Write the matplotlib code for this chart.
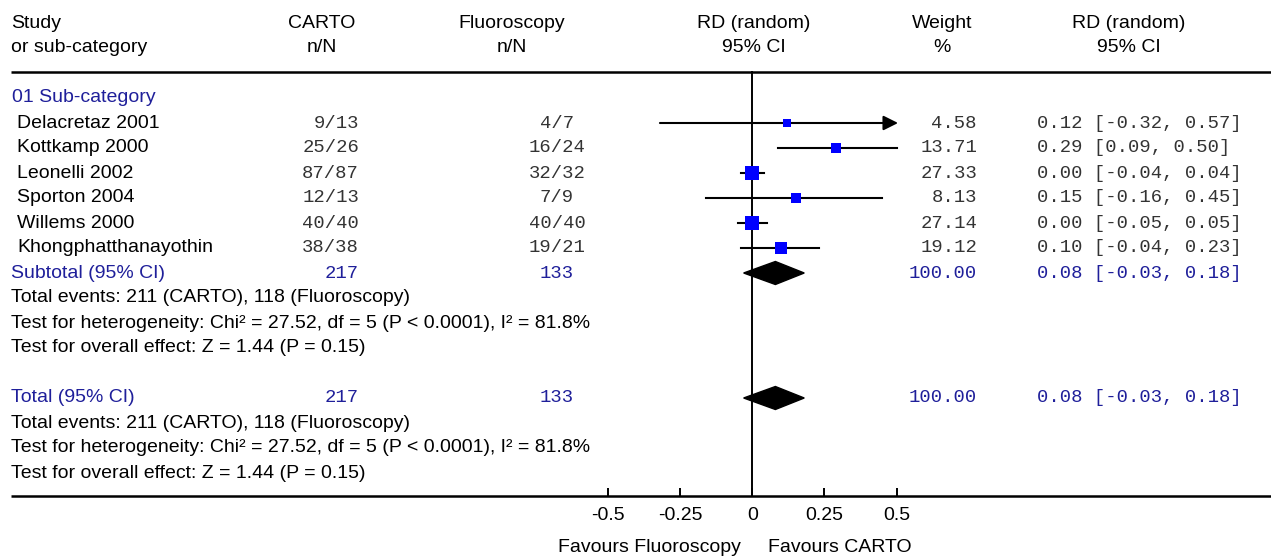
import matplotlib
matplotlib.use("Agg")
import matplotlib.pyplot as plt
from matplotlib.patches import Polygon
from matplotlib.transforms import blended_transform_factory



W, H = 1271, 556

# data
studies = ["Delacretaz 2001", "Kottkamp 2000", "Leonelli 2002",
           "Sporton 2004", "Willems 2000", "Khongphatthanayothin"]
carto_n = [9, 25, 87, 12, 40, 38]
carto_N = [13, 26, 87, 13, 40, 38]
fluo_n = [4, 16, 32, 7, 40, 19]
fluo_N = [7, 24, 32, 9, 40, 21]
weights = [4.58, 13.71, 27.33, 8.13, 27.14, 19.12]
rd = [0.12, 0.29, 0.00, 0.15, 0.00, 0.10]
rd_lo = [-0.32, 0.09, -0.04, -0.16, -0.05, -0.04]
rd_hi = [0.57, 0.50, 0.04, 0.45, 0.05, 0.23]

pooled = [0.08, -0.03, 0.18]
total_carto, total_fluo = 217, 133
events_carto, events_fluo = 211, 118
stats_lines = [
    f"Total events: {events_carto} (CARTO), {events_fluo} (Fluoroscopy)",
    "Test for heterogeneity: Chi\u00b2 = 27.52, df = 5 (P < 0.0001), I\u00b2 = 81.8%",
    "Test for overall effect: Z = 1.44 (P = 0.15)",
]

ticks = [-0.5, -0.25, 0, 0.25, 0.5]
tick_labels = ["-0.5", "-0.25", "0", "0.25", "0.5"]
clip_hi = 0.5

# layout (pixels)
X0, SCALE = 752.3, 288.6
row0, dy = 98, 25
blue_txt = "#1f1f9a"
grey_txt = "#333333"
sans = dict(family="Liberation Sans", size=14.0)
mono = dict(family="Liberation Mono", size=13.6)

fig = plt.figure(figsize=(W / 100, H / 100), dpi=100)
ax = fig.add_axes([0, 0, 1, 1])
ax.set_xlim(-X0 / SCALE, (W - X0) / SCALE)
ax.set_ylim(H, 0)
ax.set_axis_off()
tr = blended_transform_factory(ax.transAxes, ax.transData)


def put(x, y, s, ha="left", color="black", font=sans):
    ax.text(x / W, y, s, ha=ha, va="center", color=color, transform=tr, **font)


# header
put(11, 23, "Study")
put(11, 48, "or sub-category")
for cx, a, b in [(322, "CARTO", "n/N"), (512, "Fluoroscopy", "n/N"),
                 (754, "RD (random)", "95% CI"), (942, "Weight", "%"),
                 (1129, "RD (random)", "95% CI")]:
    put(cx, 23, a, ha="center")
    put(cx, 48, b, ha="center")

top_y, bot_y = 72, 496
ax.plot([-2.57, 2], [top_y, top_y], color="black", lw=1.8, solid_capstyle="butt")
ax.plot([-2.57, 2], [bot_y, bot_y], color="black", lw=1.8, solid_capstyle="butt")
ax.plot([0, 0], [top_y, bot_y], color="black", lw=1.4)

put(12, row0, "01 Sub-category", color=blue_txt)

for i, name in enumerate(studies):
    y = row0 + dy * (i + 1)
    put(17, y, name)
    put(359, y, f"{carto_n[i]}/{carto_N[i]}", ha="right", color=grey_txt, font=mono)
    put(557, y, f"{fluo_n[i]}/{fluo_N[i]}", ha="center", color=grey_txt, font=mono)
    put(977, y, f"{weights[i]:.2f}", ha="right", color=grey_txt, font=mono)
    put(1037, y, f"{rd[i]:.2f} [{rd_lo[i]:.2f}, {rd_hi[i]:.2f}]", color=grey_txt, font=mono)
    if rd_hi[i] > clip_hi:
        ax.annotate("", xy=(clip_hi + 0.005, y), xytext=(rd_lo[i], y),
                    arrowprops=dict(arrowstyle="-|>", color="black", lw=1.5,
                                    mutation_scale=22, shrinkA=0, shrinkB=0))
    else:
        ax.plot([rd_lo[i], rd_hi[i]], [y, y], color="black", lw=1.5)
    side = (7.5 + 0.24 * weights[i]) * 0.72
    ax.plot(rd[i], y, marker="s", ms=side, color="#0000ff", mec="#0000ff", mew=0, zorder=3)


def pooled_block(y, label):
    put(11, y, label, color=blue_txt)
    put(359, y, str(total_carto), ha="right", color=blue_txt, font=mono)
    put(557, y, str(total_fluo), ha="center", color=blue_txt, font=mono)
    put(977, y, "100.00", ha="right", color=blue_txt, font=mono)
    put(1037, y, f"{pooled[0]:.2f} [{pooled[1]:.2f}, {pooled[2]:.2f}]", color=blue_txt, font=mono)
    h = 11.5
    ax.add_patch(Polygon([(pooled[1], y), (pooled[0], y - h), (pooled[2], y), (pooled[0], y + h)],
                         closed=True, color="black", zorder=3))
    for k, s in enumerate(stats_lines):
        put(11, y + dy * (k + 1), s)


pooled_block(row0 + dy * 7, "Subtotal (95% CI)")
pooled_block(row0 + dy * 12, "Total (95% CI)")

# axis ticks on the bottom line
ax.vlines(ticks, bot_y - 8, bot_y, color="black", lw=1.4)
for t, lab in zip(ticks, tick_labels):
    put(X0 + SCALE * t, 515, lab, ha="center")

put(741, 547, "Favours Fluoroscopy", ha="right")
put(768, 547, "Favours CARTO", ha="left")

fig.savefig("out.png", dpi=100)
